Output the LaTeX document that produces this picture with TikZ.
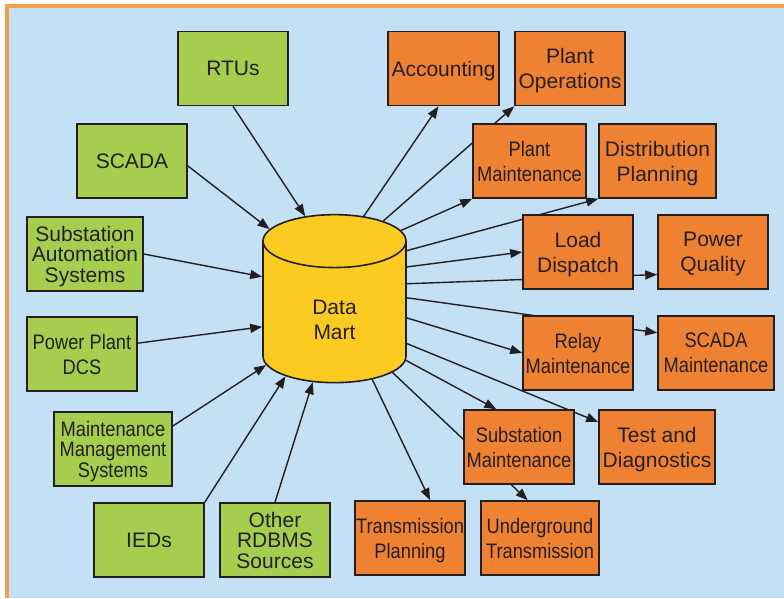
\documentclass[tikz,border=0pt]{standalone}
\usepackage{fontspec}
\setmainfont{Liberation Sans}
\newfontfamily\narrowsf[FakeStretch=0.87]{Liberation Sans}
\definecolor{dmBlue}{HTML}{C3E0F5}
\definecolor{dmFrame}{HTML}{F0A04B}
\definecolor{dmGreen}{HTML}{A5CE4E}
\definecolor{dmOrange}{HTML}{EF8232}
\definecolor{dmYellow}{HTML}{FCCB21}
\definecolor{dmLine}{HTML}{231F20}
\usetikzlibrary{arrows.meta,shapes.geometric}
\pgfdeclarelayer{back}
\pgfdeclarelayer{links}
\pgfsetlayers{back,links,main}
\tikzset{
  box/.style={draw=dmLine, line width=1.6pt, minimum height=74pt, inner sep=0pt,
    align=center, text=dmLine, text depth=0pt, font=\fontsize{21}{25}\selectfont},
  src/.style={box, fill=dmGreen},
  app/.style={box, fill=dmOrange},
  narrow/.style={font=\narrowsf\fontsize{21}{25}\selectfont},
  tall/.style={font=\fontsize{21}{20.5}\selectfont},
  link/.style={draw=dmLine, line width=1.4pt, -{Triangle[length=12pt,width=9pt]}}
}

\begin{document}
\begin{tikzpicture}[x=1pt, y=-1pt]
  \useasboundingbox (0,0) rectangle (784,598);
  \begin{pgfonlayer}{back}
    \fill[white] (0,0) rectangle (784,598);
    \fill[dmFrame] (5,4) rectangle (784,598);
    \fill[dmBlue] (8.5,7.5) rectangle (784,598);
  \end{pgfonlayer}

  % the store in the middle
  \node[cylinder, shape border rotate=90, aspect=0.37, draw=dmLine, line width=1.6pt,
    fill=dmYellow, minimum width=143pt, minimum height=168pt,
    inner xsep=71.5pt, inner ysep=0pt] (mart) at (334.5,325.5) {};
  \node[font=\fontsize{21}{25}\selectfont, text=dmLine, text depth=0pt, align=center] (martlbl) at (334.5,320) {Data\\Mart};

  % sources
  \node[src, minimum width=110pt] (rtu) at (233,68.5) {RTUs};
  \node[src, minimum width=110pt] (scada) at (132,161) {SCADA};
  \node[src, tall, minimum width=116pt] (sas) at (85,254) {Substation\\Automation\\Systems};
  \node[src, narrow, minimum width=110pt] (ppdcs) at (82,354) {Power Plant\\DCS};
  \node[src, font=\narrowsf\fontsize{21}{20.5}\selectfont, minimum width=118pt] (mms) at (113,449) {Maintenance\\Management\\Systems};
  \node[src, minimum width=110pt] (ieds) at (149,540) {IEDs};
  \node[src, tall, minimum width=110pt] (other) at (275,540) {Other\\RDBMS\\Sources};

  % applications
  \node[app, minimum width=111pt] (acc) at (443.5,68.5) {Accounting};
  \node[app, minimum width=110pt] (po) at (570,68.5) {Plant\\Operations};
  \node[app, narrow, minimum width=113pt] (pm) at (529.5,161) {Plant\\Maintenance};
  \node[app, minimum width=117pt] (dp) at (657.5,161) {Distribution\\Planning};
  \node[app, minimum width=110pt] (ld) at (578,252) {Load\\Dispatch};
  \node[app, minimum width=110pt] (pq) at (713,252) {Power\\Quality};
  \node[app, narrow, minimum width=110pt] (rm) at (578,353) {Relay\\Maintenance};
  \node[app, narrow, minimum width=116pt] (scm) at (716,353) {SCADA\\Maintenance};
  \node[app, narrow, minimum width=110pt] (sm) at (519,447) {Substation\\Maintenance};
  \node[app, minimum width=116pt] (td) at (657,447) {Test and\\Diagnostics};
  \node[app, narrow, minimum width=110pt] (tp) at (410,538) {Transmission\\Planning};
  \node[app, narrow, minimum width=118pt] (ut) at (540,538) {Underground\\Transmission};

  \begin{pgfonlayer}{links}
    \draw[link] (rtu.south) -- (mart.105);
    \draw[link] (scada.-5) -- (mart.124);
    \draw[link] (sas.east) -- (mart.146);
    \draw[link] (ppdcs.11) -- (mart.181);
    \draw[link] (mms.21) -- (mart.210);
    \draw[link] (ieds.north east) -- (mart.226);
    \draw[link] (other.north) -- (mart.249);
    \draw[link] (mart.75) -- ([xshift=-5pt]acc.south);
    \draw[link] (mart.65) -- (po.south west);
    \draw[link] (mart.55) -- (pm.south west);
    \draw[link] (mart.46) -- (dp.south west);
    \draw[link] (mart.39) -- (ld.west);
    \draw[link] (mart.30) -- (pq.202);
    \draw[link] (mart.21) -- (scm.161);
    \draw[link] (mart.6) -- (rm.west);
    \draw[link] (mart.-14) -- (td.157);
    \draw[link] (mart.-26) -- (sm.121);
    \draw[link] (mart.-39) -- (ut.108);
    \draw[link] (mart.-55) -- (tp.62);
  \end{pgfonlayer}
\end{tikzpicture}
\end{document}
